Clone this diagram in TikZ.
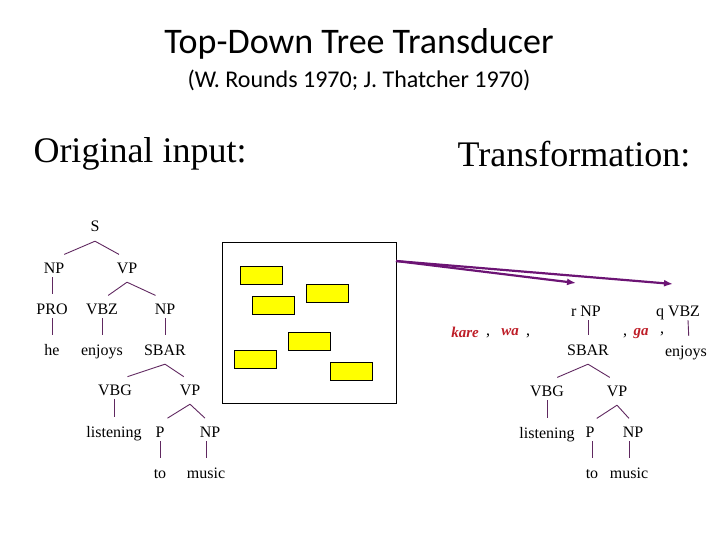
\documentclass[tikz,border=0pt]{standalone}
\usepackage{fontspec}
\setmainfont{Liberation Serif}
\newfontfamily\calibri{Carlito}
\usetikzlibrary{arrows.meta, positioning, calc}
\definecolor{branchpurple}{RGB}{96,40,96}
\definecolor{arrowpurple}{RGB}{108,20,116}
\definecolor{kanared}{RGB}{190,30,40}
\definecolor{boxyellow}{RGB}{255,255,0}

\tikzset{
    label/.style={font=\fontsize{16}{17}\selectfont, text height=10pt, text depth=0pt,
        inner xsep=1pt, inner ysep=4pt},
    branch/.style={draw=branchpurple, line width=0.9pt},
    stem/.style={draw=branchpurple, line width=0.9pt, shorten >=6pt},
    kana/.style={font=\fontsize{15}{16}\selectfont\bfseries\itshape, text=kanared, inner sep=1pt},
    sep/.style={font=\fontsize{16}{17}\selectfont, inner sep=1pt},
    card/.style={draw, fill=boxyellow, line width=0.8pt, minimum width=42pt, minimum height=18pt,
        inner sep=0pt},
    transarrow/.style={draw=arrowpurple, line width=2.2pt, -{Latex[length=9pt,width=7pt]}}
}

\begin{document}
\begin{tikzpicture}[x=1pt, y=-1pt]
    \useasboundingbox (0,0) rectangle (720,540);

    % Title
    \node[font=\calibri\fontsize{36}{38}\selectfont] (title) at (359,44) {Top-Down Tree Transducer};
    \node[font=\calibri\fontsize{24}{26}\selectfont] (subtitle) at (359,80) {(W. Rounds 1970; J. Thatcher 1970)};
    \node[font=\fontsize{36}{38}\selectfont] (inhead) at (140,154) {Original input:};
    \node[font=\fontsize{36}{38}\selectfont] (trhead) at (574,154) {Transformation:};

    % Input tree
    \foreach \n/\x/\y/\t in {s/95/227/S, np/54/268/NP, vp/127/268/VP,
        pro/52/309/PRO, vbz/102/309/VBZ, npb/165/309/NP,
        he/52/350/he, enjoys/102/350/enjoys, sbar/165/350/SBAR,
        vbg/115/390/VBG, vpb/190/390/VP,
        listening/114/432/listening, p/160/432/P, npc/210/432/NP,
        to/160/473/to, music/206/473/music} {
        \node[label] (\n) at (\x,\y) {\t};
    }
    \foreach \a/\b in {s/np, s/vp, vp/vbz, vp/npb, sbar/vbg, sbar/vpb, vpb/p, vpb/npc} {
        \path ([yshift=-5pt]\a.south) coordinate (apex);
        \draw[branch] (apex) -- ($(apex)!0.75!(\b.north)$);
    }
    \foreach \a/\b in {np/pro, pro/he, vbz/enjoys, npb/sbar, vbg/listening, p/to, npc/music} {
        \draw[stem] (\b.north |- \a.south) -- (\b.north);
    }

    % Rule box
    \node[draw, line width=1pt, minimum width=174pt, minimum height=161pt] (rulebox) at (309,322.5) {};
    \foreach \n/\x/\y in {c1/261/275, c2/273/305, c3/327/293, c4/309/341, c5/255/359, c6/351/371} {
        \node[card] (\n) at (\x,\y) {};
    }

    % Output tree
    \foreach \n/\x/\y/\t in {rnp/586/311/r NP, qvbz/678/311/q VBZ,
        osbar/588/350/SBAR, oenjoys/686/351/enjoys,
        ovbg/547/391/VBG, ovp/617/391/VP,
        olistening/547/433/listening, op/590/432/P, onp/633/432/NP,
        oto/592/473/to, omusic/629/473/music} {
        \node[label] (\n) at (\x,\y) {\t};
    }
    \foreach \a/\b in {osbar/ovbg, osbar/ovp, ovp/op, ovp/onp} {
        \path ([yshift=-5pt]\a.south) coordinate (apex);
        \draw[branch] (apex) -- ($(apex)!0.75!(\b.north)$);
    }
    \draw[stem] (osbar.north |- rnp.south) -- (osbar.north);
    \draw[stem] ([xshift=10pt]qvbz.south) -- ([xshift=3pt]oenjoys.north);
    \foreach \a/\b in {ovbg/olistening, op/oto, onp/omusic} {
        \draw[stem] (\b.north |- \a.south) -- (\b.north);
    }

    % Japanese particles
    \node[kana] (kare) at (465,332) {kare};
    \node[sep] (sep1) at (488,336) {,};
    \node[kana] (wa) at (510,332) {wa};
    \node[sep] (sep2) at (528,336) {,};
    \node[sep] (sep3) at (625,336) {,};
    \node[kana] (ga) at (641,334) {ga};
    \node[sep] (sep4) at (662,334) {,};

    % Arrows into the output
    \coordinate (astart) at (396,261);
    \coordinate (aone) at (576,283);
    \coordinate (atwo) at (673,284);
    \draw[transarrow] (astart) -- (aone);
    \draw[transarrow] (astart) -- (atwo);
\end{tikzpicture}
\end{document}
